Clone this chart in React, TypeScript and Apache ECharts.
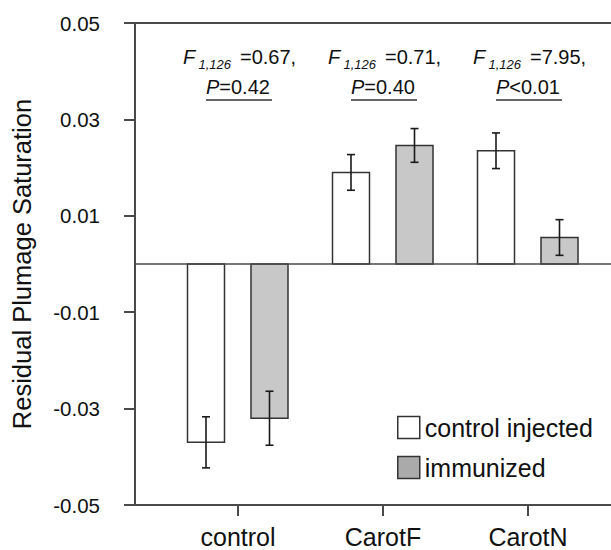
import React, { useEffect, useRef } from "react";
import * as echarts from "echarts";

const categories = ["control", "CarotF", "CarotN"];
const controlInjected = [-0.037, 0.019, 0.0235];
const controlInjectedErr = [0.0053, 0.0037, 0.0037];
const immunized = [-0.032, 0.0246, 0.0055];
const immunizedErr = [0.0056, 0.0035, 0.0037];
const fValues = ["=0.67,", "=0.71,", "=7.95,"];
const pValues = ["=0.42", "=0.40", "<0.01"];
const yTicks = [-0.05, -0.03, -0.01, 0.01, 0.03, 0.05];
const xTicks = [0, 1, 2];

const FONT = '"Liberation Sans", Arial, sans-serif';
const AXIS_COLOR = "#4a4a4a";
const TEXT_COLOR = "#111";

function barRenderer(offsetPx: number, fill: string) {
  return (params: any, api: any) => {
    const xi = api.value(0);
    const v = api.value(1);
    const e = api.value(2);
    const top = api.coord([xi, v]);
    const base = api.coord([xi, 0]);
    const hi = api.coord([xi, v + e]);
    const lo = api.coord([xi, v - e]);
    const cx = top[0] + offsetPx;
    const hw = 18.5;
    const cap = 4;
    const y0 = Math.min(top[1], base[1]);
    const h = Math.abs(top[1] - base[1]);
    const errStyle = { stroke: "#1a1a1a", lineWidth: 1.6 };
    return {
      type: "group",
      children: [
        {
          type: "rect",
          shape: { x: cx - hw, y: y0, width: hw * 2, height: h },
          style: { fill, stroke: "#333", lineWidth: 1.5 },
        },
        { type: "line", shape: { x1: cx, y1: hi[1], x2: cx, y2: lo[1] }, style: errStyle },
        { type: "line", shape: { x1: cx - cap, y1: hi[1], x2: cx + cap, y2: hi[1] }, style: errStyle },
        { type: "line", shape: { x1: cx - cap, y1: lo[1], x2: cx + cap, y2: lo[1] }, style: errStyle },
      ],
    };
  };
}

function annotRenderer(params: any, api: any) {
  const i = api.value(0);
  const p = api.coord([i, 0.05]);
  const c = p[0] + 1;
  const t = p[1];
  const base = { fill: TEXT_COLOR, fontFamily: FONT, verticalAlign: "middle", align: "left" };
  return {
    type: "group",
    children: [
      { type: "text", x: c - 56, y: t + 34, style: { ...base, text: "F", fontSize: 20, fontStyle: "italic" } },
      { type: "text", x: c - 40.5, y: t + 41, style: { ...base, text: "1,126", fontSize: 13, fontStyle: "italic" } },
      { type: "text", x: c + 1, y: t + 34, style: { ...base, text: fValues[i], fontSize: 20 } },
      { type: "text", x: c - 33, y: t + 64, style: { ...base, text: "P", fontSize: 20, fontStyle: "italic" } },
      { type: "text", x: c - 19.7, y: t + 64, style: { ...base, text: pValues[i], fontSize: 20 } },
      {
        type: "line",
        shape: { x1: c - 33, y1: t + 77, x2: c + 33, y2: t + 77 },
        style: { stroke: "#333", lineWidth: 1.5 },
      },
    ],
  };
}

export default function App() {
  const ref = useRef<HTMLDivElement>(null);
  useEffect(() => {
    if (!ref.current) return;
    const chart = echarts.init(ref.current, null, { renderer: "svg" });
    const xMin = -103 / 145;
    const xMax = xMin + 476 / 145;
    const xAxisCommon = {
      type: "value",
      min: xMin,
      max: xMax,
      splitLine: { show: false },
    };
    chart.setOption({
      animation: false,
      backgroundColor: "#fff",
      textStyle: { fontFamily: FONT },
      grid: { left: 135, right: 0, top: 23, bottom: 45, containLabel: false },
      legend: {
        orient: "vertical",
        left: 397,
        top: 415,
        padding: 0,
        itemWidth: 22,
        itemHeight: 22,
        itemGap: 15,
        icon: "rect",
        textStyle: { fontSize: 25, color: TEXT_COLOR, fontFamily: FONT },
        data: [
          { name: "control injected", itemStyle: { color: "#ffffff", borderColor: "#333", borderWidth: 1.5 } },
          { name: "immunized", itemStyle: { color: "#aaaaaa", borderColor: "#333", borderWidth: 1.5 } },
        ],
      },
      xAxis: [
        {
          ...xAxisCommon,
          position: "bottom",
          axisLine: { show: true, onZero: false, lineStyle: { color: AXIS_COLOR, width: 2 } },
          axisTick: {
            show: true,
            customValues: xTicks,
            length: 11,
            lineStyle: { color: AXIS_COLOR, width: 2 },
          },
          axisLabel: {
            customValues: xTicks,
            formatter: (v: number) => categories[Math.round(v)] ?? "",
            fontSize: 25,
            color: TEXT_COLOR,
            fontFamily: FONT,
            margin: 19,
          },
        },
        {
          ...xAxisCommon,
          position: "top",
          axisLine: { show: true, onZero: false, lineStyle: { color: AXIS_COLOR, width: 2 } },
          axisTick: { show: false },
          axisLabel: { show: false },
        },
      ],
      yAxis: {
        type: "value",
        min: -0.05,
        max: 0.05,
        name: "Residual Plumage Saturation",
        nameLocation: "middle",
        nameGap: 100,
        nameTextStyle: { fontSize: 25.5, color: TEXT_COLOR, fontFamily: FONT },
        splitLine: { show: false },
        axisLine: { show: true, onZero: false, lineStyle: { color: AXIS_COLOR, width: 2 } },
        axisTick: {
          show: true,
          customValues: yTicks,
          length: 11,
          lineStyle: { color: AXIS_COLOR, width: 2 },
        },
        axisLabel: {
          customValues: yTicks,
          formatter: (v: number) => v.toFixed(2),
          fontSize: 20.5,
          color: TEXT_COLOR,
          fontFamily: FONT,
          margin: 35,
        },
      },
      series: [
        {
          name: "control injected",
          type: "custom",
          xAxisIndex: 0,
          itemStyle: { color: "#ffffff", borderColor: "#333", borderWidth: 1.5 },
          renderItem: barRenderer(-32, "#ffffff"),
          data: categories.map((_, i) => [i, controlInjected[i], controlInjectedErr[i]]),
          markLine: {
            silent: true,
            symbol: "none",
            label: { show: false },
            lineStyle: { color: AXIS_COLOR, width: 1.6, type: "solid" },
            data: [{ yAxis: 0 }],
          },
          z: 3,
        },
        {
          name: "immunized",
          type: "custom",
          xAxisIndex: 0,
          itemStyle: { color: "#c8c8c8", borderColor: "#333", borderWidth: 1.5 },
          renderItem: barRenderer(31.5, "#c8c8c8"),
          data: categories.map((_, i) => [i, immunized[i], immunizedErr[i]]),
          z: 3,
        },
        {
          name: "annotations",
          type: "custom",
          xAxisIndex: 0,
          silent: true,
          renderItem: annotRenderer,
          data: categories.map((_, i) => [i, 0.05]),
          z: 4,
        },
      ],
    });
    return () => chart.dispose();
  }, []);
  return (
    <div
      ref={ref}
      style={{ position: "fixed", left: 0, top: 0, width: 611, height: 550, background: "#fff" }}
    />
  );
}
